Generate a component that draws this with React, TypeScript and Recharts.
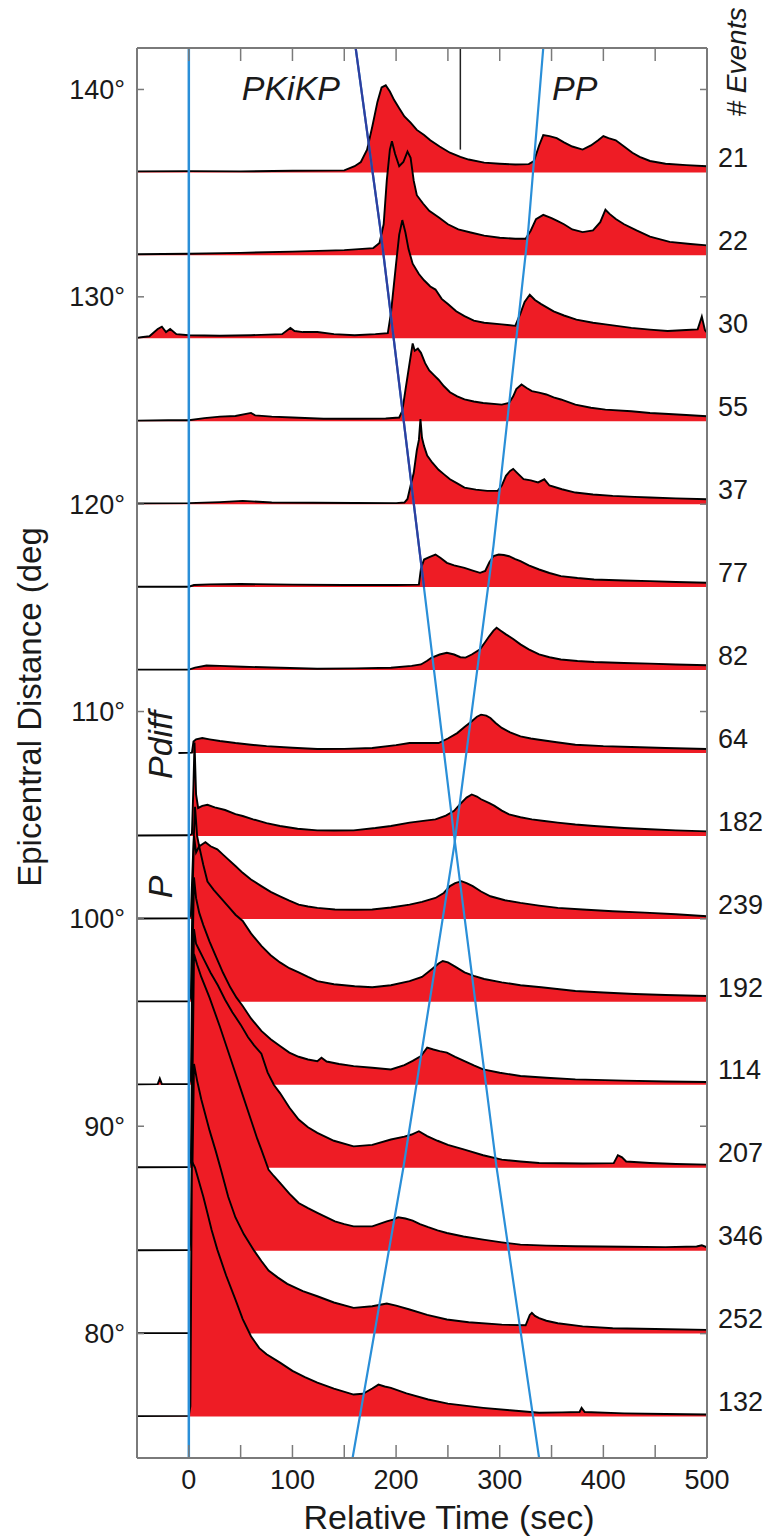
import React from 'react';
import { ComposedChart, Area, Line, XAxis, YAxis, ReferenceLine } from 'recharts';

const FONT = '"Liberation Sans", Arial, Helvetica, sans-serif';
const TEXT = '#1a1a1a';
const FRAME = '#7a7a7a';
const RED = '#ee1c25';
const BLUE = '#2a8fd8';
const NAVY = '#2f3e9e';

const BASELINES = [136, 132, 128, 124, 120, 116, 112, 108, 104, 100, 96, 92, 88, 84, 80, 76];
const EVENT_COUNTS = ['21', '22', '30', '55', '37', '77', '82', '64', '182', '239', '192', '114', '207', '346', '252', '132'];
const X_TICKS = [0, 50, 100, 150, 200, 250, 300, 350, 400, 450, 500];
const Y_TICKS = [80, 90, 100, 110, 120, 130, 140];

// [relative time (s), amplitude (deg above the trace baseline)]
const TRACE_21: [number, number][] = [[-50,0.05],[0,0.06],[50,0.05],[100,0.08],[150,0.1],[160,0.3],[166,0.5],[172,1.1],[177,2.2],[182,3.4],[186,4.1],[190,4.2],[194,3.9],[198,3.5],[203,3.1],[208,2.7],[214,2.4],[220,2.05],[227,1.8],[233,1.55],[242,1.25],[252,0.95],[262,0.75],[270,0.62],[285,0.47],[300,0.42],[315,0.38],[328,0.4],[333,0.55],[338,1.3],[342,1.8],[348,1.75],[355,1.65],[362,1.45],[370,1.25],[380,1.1],[388,1.3],[395,1.55],[400,1.75],[405,1.65],[412,1.55],[420,1.25],[428,0.95],[435,0.75],[445,0.55],[460,0.42],[480,0.35],[500,0.3]];
const TRACE_22: [number, number][] = [[-50,0.05],[0,0.08],[50,0.12],[100,0.18],[150,0.25],[178,0.35],[184,0.6],[188,1.5],[191,3.6],[194,5.1],[196,5.5],[199,4.9],[203,4.3],[207,4.5],[211,5.0],[214,4.7],[217,3.6],[220,2.9],[226,2.5],[232,2.15],[242,1.8],[250,1.5],[260,1.25],[272,1.1],[285,0.95],[300,0.85],[315,0.8],[325,0.8],[330,1.2],[335,1.75],[342,1.95],[350,1.8],[356,1.65],[362,1.5],[370,1.25],[380,1.12],[390,1.2],[397,1.6],[402,2.2],[406,2.0],[412,1.75],[420,1.5],[432,1.2],[445,0.9],[464,0.65],[484,0.55],[500,0.48]];
const TRACE_30: [number, number][] = [[-50,0.02],[-46,0.05],[-38,0.1],[-30,0.45],[-26,0.56],[-22,0.3],[-18,0.45],[-12,0.2],[0,0.15],[30,0.12],[60,0.15],[90,0.2],[98,0.5],[102,0.35],[110,0.3],[124,0.3],[140,0.2],[160,0.15],[180,0.2],[192,0.25],[195,1.2],[200,3.6],[203,5.0],[206,5.7],[209,5.1],[212,4.3],[216,3.6],[222,3.1],[227,2.8],[233,2.5],[238,2.35],[244,1.9],[250,1.65],[258,1.3],[266,1.07],[275,0.85],[285,0.75],[302,0.67],[315,0.6],[320,1.2],[324,1.75],[329,2.1],[334,1.85],[340,1.65],[352,1.3],[362,1.1],[374,0.9],[390,0.75],[402,0.67],[427,0.5],[445,0.42],[462,0.35],[480,0.4],[491,0.43],[495,1.05],[498,0.4],[500,0.27]];
const TRACE_55: [number, number][] = [[-50,0.03],[-20,0.05],[0,0.05],[15,0.15],[30,0.22],[45,0.25],[60,0.4],[64,0.28],[80,0.22],[100,0.18],[130,0.12],[160,0.12],[190,0.13],[203,0.18],[206,0.5],[209,1.5],[213,2.8],[216,3.75],[218,3.4],[221,3.5],[224,3.3],[228,2.8],[232,2.45],[237,2.2],[241,2.0],[246,1.7],[252,1.4],[259,1.2],[266,1.05],[275,0.95],[284,0.88],[302,0.8],[309,0.88],[313,1.2],[316,1.55],[321,1.77],[326,1.6],[331,1.45],[338,1.38],[345,1.29],[352,1.15],[359,1.05],[373,0.8],[388,0.65],[402,0.56],[427,0.48],[445,0.4],[463,0.35],[480,0.3],[500,0.24]];
const TRACE_37: [number, number][] = [[-50,0.04],[0,0.05],[30,0.1],[52,0.16],[80,0.08],[120,0.07],[160,0.06],[200,0.05],[208,0.08],[211,0.25],[214,0.9],[217,1.5],[220,2.6],[222,3.1],[223.5,4.1],[225,3.2],[227,2.8],[230,2.35],[235,2.0],[241,1.66],[246,1.45],[252,1.2],[259,1.0],[266,0.8],[277,0.7],[288,0.64],[298,0.64],[302,0.9],[306,1.37],[310,1.6],[313,1.7],[317,1.5],[323,1.21],[330,1.15],[337,1.05],[343,1.2],[348,0.9],[360,0.72],[373,0.56],[390,0.47],[409,0.4],[430,0.35],[445,0.32],[470,0.28],[500,0.24]];
const TRACE_77: [number, number][] = [[-50,0.02],[0,0.02],[5,0.1],[20,0.13],[50,0.15],[100,0.12],[150,0.1],[200,0.1],[222,0.12],[224,0.9],[227,1.33],[232,1.45],[238,1.57],[243,1.4],[249,1.17],[256,1.05],[266,0.93],[274,0.8],[281,0.69],[286,0.78],[290,1.2],[294,1.5],[299,1.57],[304,1.55],[309,1.49],[315,1.35],[320,1.25],[328,1.05],[338,0.85],[348,0.68],[359,0.53],[375,0.44],[391,0.37],[420,0.32],[445,0.29],[470,0.25],[500,0.21]];
const TRACE_82: [number, number][] = [[-50,0.02],[0,0.02],[6,0.12],[17,0.22],[30,0.2],[52,0.16],[80,0.12],[124,0.06],[160,0.08],[195,0.11],[215,0.2],[224,0.27],[230,0.45],[234,0.59],[242,0.75],[249,0.83],[256,0.75],[262,0.62],[267,0.6],[273,0.75],[281,1.0],[286,1.35],[290,1.64],[294,1.9],[297,2.04],[301,1.9],[306,1.72],[313,1.5],[320,1.24],[328,1.0],[338,0.76],[348,0.62],[359,0.51],[375,0.44],[391,0.39],[420,0.34],[445,0.31],[470,0.27],[500,0.23]];
const TRACE_64: [number, number][] = [[-10,0.0],[3,0.02],[4.5,0.55],[7,0.66],[13,0.72],[20,0.66],[30,0.58],[45,0.48],[60,0.4],[75,0.33],[100,0.25],[124,0.19],[150,0.2],[177,0.24],[200,0.38],[213,0.48],[230,0.48],[241,0.48],[250,0.7],[259,0.96],[266,1.25],[273,1.53],[278,1.75],[282,1.85],[287,1.8],[291,1.69],[296,1.45],[302,1.21],[310,1.0],[320,0.8],[330,0.7],[338,0.64],[355,0.52],[373,0.4],[400,0.33],[427,0.29],[460,0.24],[500,0.19]];
const TRACE_182: [number, number][] = [[-50,0.02],[0,0.03],[3,0.1],[4.5,2.5],[5.5,4.5],[7,2.0],[9,1.35],[13,1.45],[18,1.5],[25,1.38],[35,1.25],[45,1.05],[52,0.96],[62,0.8],[75,0.62],[88,0.48],[105,0.35],[124,0.27],[140,0.26],[159,0.27],[180,0.38],[195,0.48],[213,0.64],[230,0.75],[238,0.8],[248,0.98],[256,1.21],[262,1.55],[268,1.85],[273,2.0],[278,1.9],[282,1.77],[290,1.58],[295,1.45],[302,1.22],[309,1.04],[320,0.9],[331,0.8],[343,0.72],[356,0.64],[373,0.55],[391,0.48],[420,0.38],[445,0.32],[470,0.27],[500,0.22]];
const TRACE_239: [number, number][] = [[-50,0.02],[0,0.03],[2,0.2],[4,3.0],[6,5.4],[8,4.0],[10,3.5],[13,3.6],[16,3.7],[21,3.5],[27.5,3.35],[33,3.1],[38,2.87],[45,2.55],[52,2.22],[60,1.9],[70,1.58],[79,1.3],[88,1.09],[97,0.88],[106,0.69],[115,0.6],[124,0.53],[141,0.45],[160,0.44],[177,0.45],[195,0.55],[213,0.69],[225,0.82],[238,1.01],[246,1.25],[252,1.58],[257,1.72],[263,1.82],[268,1.72],[274,1.58],[282,1.32],[291,1.09],[305,0.9],[320,0.77],[338,0.64],[356,0.53],[380,0.45],[409,0.37],[440,0.3],[470,0.22],[500,0.13]];
const TRACE_192: [number, number][] = [[-50,0.02],[0,0.03],[2,0.3],[3.5,5.0],[5,8.0],[7,7.2],[10,7.5],[14,6.6],[18,5.8],[24,5.4],[31,5.0],[38,4.6],[45,4.2],[52,3.9],[60,3.3],[70,2.7],[79,2.25],[88,1.9],[97,1.62],[106,1.42],[115,1.2],[124,1.0],[140,0.85],[160,0.75],[177,0.7],[195,0.8],[213,1.0],[225,1.2],[235,1.6],[241,1.85],[245,1.97],[250,1.9],[257,1.7],[266,1.42],[275,1.25],[285,1.1],[302,0.94],[320,0.8],[340,0.7],[373,0.52],[400,0.45],[430,0.38],[460,0.33],[500,0.28]];
const TRACE_114: [number, number][] = [[-50,0.02],[-30,0.03],[-28,0.3],[-26,0.03],[0,0.03],[2,0.3],[3.5,6.0],[5,10.0],[7,9.0],[10,8.3],[14,7.7],[20,6.9],[26,6.2],[33,5.4],[40,4.7],[46,4.2],[52,3.8],[60,3.2],[70,2.6],[79,2.2],[88,1.87],[97,1.55],[106,1.35],[115,1.22],[124,1.14],[128,1.3],[133,1.12],[145,1.0],[159,0.9],[177,0.82],[195,0.74],[208,0.95],[216,1.15],[224,1.38],[230,1.79],[236,1.7],[242,1.62],[249,1.55],[257,1.35],[266,1.14],[275,0.93],[284,0.74],[300,0.58],[320,0.42],[345,0.34],[373,0.26],[420,0.2],[460,0.16],[500,0.13]];
const TRACE_207: [number, number][] = [[-50,0.02],[0,0.03],[2,0.4],[3.5,7.0],[5,11.5],[7,10.8],[10,10.5],[15,10.0],[21,9.4],[28,8.8],[35,8.1],[42,7.5],[50,6.9],[57,6.3],[63,5.9],[70,5.5],[76,4.6],[82,4.0],[88,3.6],[97,2.9],[106,2.32],[115,1.95],[124,1.68],[140,1.3],[159,1.03],[177,1.1],[195,1.36],[208,1.5],[215,1.6],[222,1.76],[230,1.52],[240,1.3],[250,1.1],[266,0.87],[284,0.6],[302,0.39],[320,0.3],[338,0.23],[380,0.2],[410,0.22],[414,0.6],[418,0.5],[422,0.3],[445,0.23],[470,0.18],[500,0.15]];
const TRACE_346: [number, number][] = [[-50,0.02],[0,0.03],[2,0.5],[3.5,8.0],[5,14.3],[8,13.8],[12,13.2],[20,12.2],[30,10.8],[40,9.3],[50,7.8],[60,6.3],[66,5.4],[70,4.87],[77,3.9],[82,3.6],[88,3.27],[97,2.75],[106,2.3],[115,2.05],[124,1.82],[133,1.6],[141,1.41],[150,1.28],[159,1.17],[177,1.17],[191,1.41],[197,1.5],[202,1.61],[209,1.55],[216,1.45],[223,1.28],[231,1.13],[240,0.98],[249,0.85],[265,0.68],[284,0.53],[302,0.4],[320,0.29],[345,0.24],[373,0.21],[420,0.19],[460,0.17],[490,0.2],[495,0.26],[500,0.16]];
const TRACE_252: [number, number][] = [[-50,0.02],[0,0.03],[2,0.5],[3.5,8.0],[5,13.0],[8,12.2],[12,11.3],[20,9.8],[26,8.8],[31,7.9],[38,6.6],[45,5.6],[53,4.8],[63,4.0],[70,3.5],[77,3.04],[86,2.7],[95,2.4],[110,2.05],[124,1.8],[140,1.5],[159,1.24],[177,1.32],[186,1.4],[191,1.45],[200,1.35],[213,1.16],[230,0.9],[249,0.68],[270,0.55],[302,0.43],[325,0.4],[329,0.9],[331,1.0],[334,0.85],[338,0.75],[345,0.62],[356,0.5],[380,0.35],[409,0.26],[450,0.22],[500,0.18]];
const TRACE_132: [number, number][] = [[-50,0.02],[0,0.03],[1.5,0.5],[3,12.3],[6,12.0],[10,11.3],[14,10.6],[18,9.8],[22,9.0],[27.5,8.05],[36,6.8],[45,5.64],[52,4.7],[60,3.87],[68,3.3],[75,3.0],[88,2.6],[100,2.2],[112,1.9],[124,1.63],[140,1.35],[159,1.06],[168,1.1],[177,1.35],[183,1.54],[189,1.45],[195,1.38],[210,1.12],[231,0.82],[250,0.62],[270,0.5],[284,0.42],[310,0.3],[338,0.18],[360,0.2],[377,0.22],[379,0.42],[382,0.22],[420,0.15],[460,0.12],[500,0.1]];

// travel-time curves: [relative time (s), epicentral distance (deg)]
const PKIKP_CURVE: [number, number][] = [[161,142],[185,133.2],[222,118],[256,104],[297,88],[338,74]];
const PKIKP_UPPER: [number, number][] = [[161,142],[185,133.2],[222,118],[227,116]];
const PP_CURVE: [number, number][] = [[342,142],[327.5,133.2],[294,118],[256,103.5],[207,88],[158,74]];
const P_TIME = 0;
const MARKER: [number, number][] = [[262,137.1],[262,142]];

const TRACES = [TRACE_21, TRACE_22, TRACE_30, TRACE_55, TRACE_37, TRACE_77, TRACE_82, TRACE_64, TRACE_182, TRACE_239, TRACE_192, TRACE_114, TRACE_207, TRACE_346, TRACE_252, TRACE_132];

const rows: Record<string, number>[] = [];
TRACES.forEach((trace, i) => {
  trace.forEach(([t, a]) => rows.push({ t, ['s' + i]: BASELINES[i] + a }));
});
PKIKP_CURVE.forEach(([t, d]) => rows.push({ t, pk: d }));
PKIKP_UPPER.forEach(([t, d]) => rows.push({ t, pkd: d }));
PP_CURVE.forEach(([t, d]) => rows.push({ t, pp: d }));
rows.sort((a, b) => a.t - b.t);

const EventTick = (props: any) => {
  const { x, y, payload } = props;
  const idx = BASELINES.indexOf(payload.value);
  return (
    <text x={x} y={y - 15} dy="0.36em" textAnchor="start" fontSize={27} fontFamily={FONT} fill={TEXT}>
      {EVENT_COUNTS[idx]}
    </text>
  );
};

const txt = { fontFamily: FONT, fill: TEXT } as const;

export default function App() {
  return (
    <div style={{ position: 'absolute', left: 0, top: 0, background: '#fff' }}>
      <ComposedChart width={776} height={1536} data={rows} margin={{ top: 48, right: 0, bottom: 0, left: 0 }}>
        <XAxis
          xAxisId="x"
          dataKey="t"
          type="number"
          domain={[-50, 500]}
          allowDataOverflow
          ticks={X_TICKS}
          tickFormatter={(v: number) => (v % 100 === 0 ? String(v) : '')}
          height={78}
          tickSize={-13}
          tickMargin={25}
          axisLine={{ stroke: FRAME, strokeWidth: 2 }}
          tickLine={{ stroke: FRAME, strokeWidth: 1.5 }}
          tick={{ fontSize: 27, fontFamily: FONT, fill: TEXT }}
          label={{
            content: () => (
              <text x={449} y={1529} textAnchor="middle" fontSize={34} {...txt}>Relative Time (sec)</text>
            ),
          }}
        />
        <XAxis
          xAxisId="top"
          orientation="top"
          mirror
          dataKey="t"
          type="number"
          domain={[-50, 500]}
          allowDataOverflow
          ticks={X_TICKS}
          tickFormatter={() => ''}
          height={1}
          tickSize={13}
          axisLine={{ stroke: FRAME, strokeWidth: 2 }}
          tickLine={{ stroke: FRAME, strokeWidth: 1.5 }}
          label={{
            content: () => (
              <g>
                <text x={340} y={100} textAnchor="end" fontSize={34} fontStyle="italic" {...txt}>PKiKP</text>
                <text x={552} y={100} textAnchor="start" fontSize={34} fontStyle="italic" {...txt}>PP</text>
                <text x={172} y={745} transform="rotate(-90 172 745)" textAnchor="middle" fontSize={34} fontStyle="italic" {...txt}>Pdiff</text>
                <text x={172} y={887} transform="rotate(-90 172 887)" textAnchor="middle" fontSize={34} fontStyle="italic" {...txt}>P</text>
                <text x={746} y={62} transform="rotate(-90 746 62)" textAnchor="middle" fontSize={28} fontStyle="italic" {...txt}># Events</text>
              </g>
            ),
          }}
        />
        <YAxis
          yAxisId="y"
          type="number"
          domain={[74, 142]}
          allowDataOverflow
          ticks={Y_TICKS}
          tickFormatter={(v: number) => `${v}°`}
          width={137}
          tickSize={-7}
          tickMargin={19}
          axisLine={{ stroke: FRAME, strokeWidth: 2 }}
          tickLine={{ stroke: FRAME, strokeWidth: 1.5 }}
          tick={{ fontSize: 27, fontFamily: FONT, fill: TEXT }}
          label={{
            content: () => (
              <text x={41} y={707} transform="rotate(-90 41 707)" textAnchor="middle" fontSize={33} {...txt}>Epicentral Distance (deg</text>
            ),
          }}
        />
        <YAxis
          yAxisId="r"
          orientation="right"
          mirror
          type="number"
          domain={[74, 142]}
          allowDataOverflow
          ticks={Y_TICKS}
          tickFormatter={() => ''}
          width={1}
          tickSize={7}
          axisLine={{ stroke: FRAME, strokeWidth: 2 }}
          tickLine={{ stroke: FRAME, strokeWidth: 1.5 }}
        />
        <YAxis
          yAxisId="ev"
          orientation="right"
          type="number"
          domain={[74, 142]}
          allowDataOverflow
          ticks={BASELINES}
          width={69}
          tickSize={0}
          tickMargin={11}
          axisLine={false}
          tickLine={false}
          tick={<EventTick />}
        />
        {TRACES.map((_, i) => (
          <Area
            key={'s' + i}
            xAxisId="x"
            yAxisId="y"
            type="linear"
            dataKey={'s' + i}
            baseValue={BASELINES[i]}
            connectNulls
            fill={RED}
            fillOpacity={1}
            stroke="#000"
            strokeWidth={1.9}
            dot={false}
            activeDot={false}
            isAnimationActive={false}
          />
        ))}
        <ReferenceLine xAxisId="x" yAxisId="y" x={P_TIME} stroke={BLUE} strokeWidth={2.5} />
        <Line xAxisId="x" yAxisId="y" type="linear" dataKey="pk" connectNulls stroke={BLUE} strokeWidth={2.2} dot={false} activeDot={false} isAnimationActive={false} />
        <Line xAxisId="x" yAxisId="y" type="linear" dataKey="pkd" connectNulls stroke={NAVY} strokeWidth={2.2} dot={false} activeDot={false} isAnimationActive={false} />
        <Line xAxisId="x" yAxisId="y" type="linear" dataKey="pp" connectNulls stroke={BLUE} strokeWidth={2.2} dot={false} activeDot={false} isAnimationActive={false} />
        <ReferenceLine
          xAxisId="x"
          yAxisId="y"
          segment={[{ x: MARKER[0][0], y: MARKER[0][1] }, { x: MARKER[1][0], y: MARKER[1][1] }]}
          stroke="#222"
          strokeWidth={1.5}
        />
      </ComposedChart>
    </div>
  );
}
